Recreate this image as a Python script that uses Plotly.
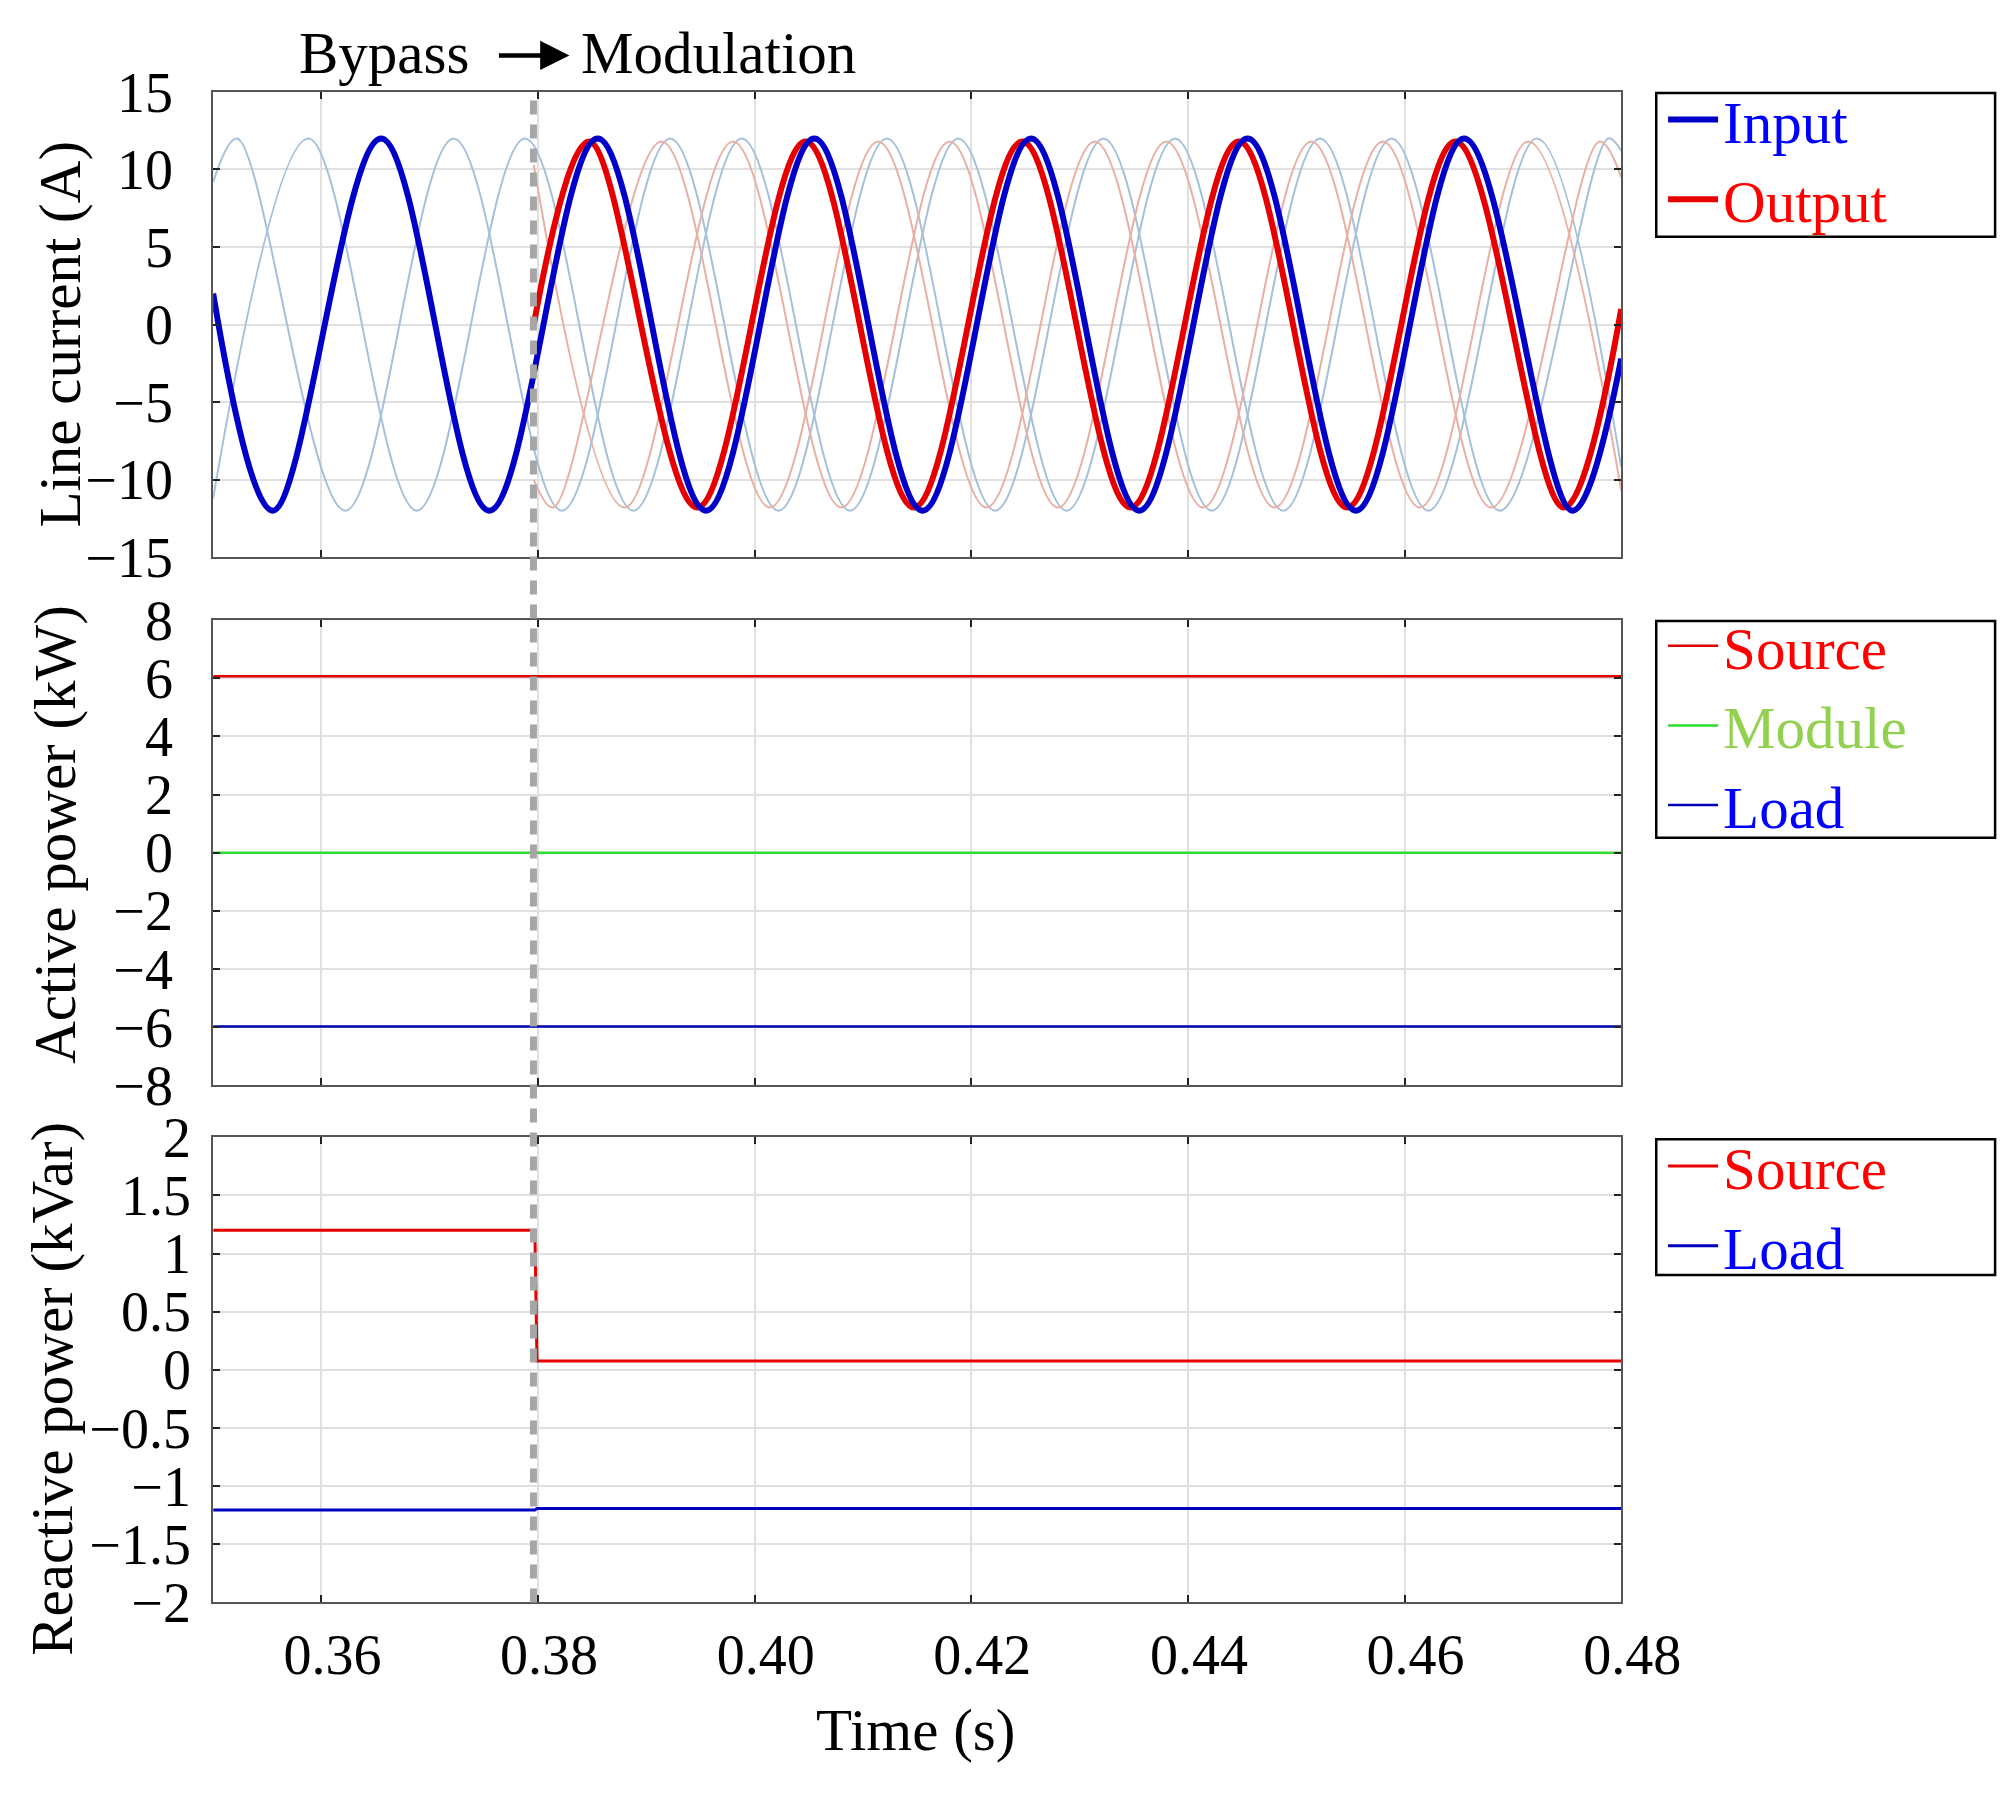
import plotly.graph_objects as go

# --- DATA ---
# Line currents: time (s) of start point, each peak/trough, and end point, with values (A)
in_a_t = [0.3500, 0.3555, 0.3655, 0.3755, 0.3855, 0.3955, 0.4055, 0.4155, 0.4255, 0.4355, 0.4455, 0.4555, 0.4655, 0.4755, 0.4800]
in_a_i = [2.0, -12, 12, -12, 12, -12, 12, -12, 12, -12, 12, -12, 12, -12, -2.2]
in_b_t = [0.3500, 0.3522, 0.3622, 0.3722, 0.3822, 0.3922, 0.4022, 0.4122, 0.4222, 0.4322, 0.4422, 0.4522, 0.4622, 0.4722, 0.4800]
in_b_i = [9.2, 12, -12, 12, -12, 12, -12, 12, -12, 12, -12, 12, -12, 12, -9.2]
in_c_t = [0.3500, 0.3588, 0.3688, 0.3788, 0.3888, 0.3988, 0.4088, 0.4188, 0.4288, 0.4388, 0.4488, 0.4588, 0.4688, 0.4788, 0.4800]
in_c_i = [-11.2, 12, -12, 12, -12, 12, -12, 12, -12, 12, -12, 12, -12, 12, 11.2]

out_a_t = [0.3796, 0.3847, 0.3947, 0.4047, 0.4147, 0.4247, 0.4347, 0.4447, 0.4547, 0.4647, 0.4747, 0.4800]
out_a_i = [0.0, 11.8, -11.8, 11.8, -11.8, 11.8, -11.8, 11.8, -11.8, 11.8, -11.8, 1.0]
out_b_t = [0.3796, 0.3814, 0.3914, 0.4014, 0.4114, 0.4214, 0.4314, 0.4414, 0.4514, 0.4614, 0.4714, 0.4800]
out_b_i = [-10.0, -11.8, 11.8, -11.8, 11.8, -11.8, 11.8, -11.8, 11.8, -11.8, 11.8, -10.7]
out_c_t = [0.3796, 0.3880, 0.3980, 0.4080, 0.4180, 0.4280, 0.4380, 0.4480, 0.4580, 0.4680, 0.4780, 0.4800]
out_c_i = [10.3, -11.8, 11.8, -11.8, 11.8, -11.8, 11.8, -11.8, 11.8, -11.8, 11.8, 9.5]

# Active power (kW)
p_t = [0.35, 0.48]
p_source = [6.07, 6.07]
p_module = [0.0, 0.0]
p_load = [-5.98, -5.98]

# Reactive power (kVar)
q_t = [0.3500, 0.3797, 0.3799, 0.4800]
q_source = [1.20, 1.20, 0.075, 0.075]
q_load = [-1.205, -1.205, -1.192, -1.192]

switch_time = 0.37957
x_ticks = [0.36, 0.38, 0.40, 0.42, 0.44, 0.46, 0.48]

# --- STYLE ---
# the photographed page shows the figure at ~0.97 scale, offset by (9, 37) px,
# so positions below are given in picture pixels and mapped back into the figure
W, H = 2050, 1794
SCALE_X, SCALE_Y = 0.970, 0.967
OFF_X, OFF_Y = 9, 37
FONT = "Liberation Serif"
BLUE = "#0000c8"
RED = "#e60000"
FAINT_BLUE = "#a6c0da"
FAINT_RED = "#e8b0a4"
GREEN = "#2ede2e"
TICK_SIZE = 56
TEXT_SIZE = 59


def px_x(x):
    return (x - OFF_X) / SCALE_X / W


def px_y(y):
    return 1 - (y - OFF_Y) / SCALE_Y / H


X_DOM = [px_x(214), px_x(1621)]
Y1_DOM = [px_y(557), px_y(91)]
Y2_DOM = [px_y(1086), px_y(620)]
Y3_DOM = [px_y(1604), px_y(1138)]


def colored(text, color):
    return f'<span style="color:{color}">{text}</span>'


fig = go.Figure()

# faint phases first
for t, i in [(in_b_t, in_b_i), (in_c_t, in_c_i)]:
    fig.add_trace(go.Scatter(x=t, y=i, mode="lines", line=dict(color=FAINT_BLUE, width=2, shape="spline"),
                             showlegend=False, xaxis="x", yaxis="y"))
for t, i in [(out_b_t, out_b_i), (out_c_t, out_c_i)]:
    fig.add_trace(go.Scatter(x=t, y=i, mode="lines", line=dict(color=FAINT_RED, width=2, shape="spline"),
                             showlegend=False, xaxis="x", yaxis="y"))

fig.add_trace(go.Scatter(x=out_a_t, y=out_a_i, mode="lines", line=dict(color=RED, width=6, shape="spline"),
                         name=colored("Output", "#ff0000"), legend="legend", legendrank=2, xaxis="x", yaxis="y"))
fig.add_trace(go.Scatter(x=in_a_t, y=in_a_i, mode="lines", line=dict(color=BLUE, width=6, shape="spline"),
                         name=colored("Input", "#0000ff"), legend="legend", legendrank=1, xaxis="x", yaxis="y"))

# active power
fig.add_trace(go.Scatter(x=p_t, y=p_source, mode="lines", line=dict(color="#e00000", width=2.5),
                         name=colored("Source", "#ff0000"), legend="legend2", xaxis="x2", yaxis="y2"))
fig.add_trace(go.Scatter(x=p_t, y=p_module, mode="lines", line=dict(color=GREEN, width=2.5),
                         name=colored("Module", "#92d050"), legend="legend2", xaxis="x2", yaxis="y2"))
fig.add_trace(go.Scatter(x=p_t, y=p_load, mode="lines", line=dict(color="#0000b4", width=2.5),
                         name=colored("Load", "#0000ff"), legend="legend2", xaxis="x2", yaxis="y2"))

# reactive power
fig.add_trace(go.Scatter(x=q_t, y=q_source, mode="lines", line=dict(color="#e60000", width=3),
                         name=colored("Source", "#ff0000"), legend="legend3", xaxis="x3", yaxis="y3"))
fig.add_trace(go.Scatter(x=q_t, y=q_load, mode="lines", line=dict(color="#0000c0", width=3),
                         name=colored("Load", "#0000ff"), legend="legend3", xaxis="x3", yaxis="y3"))

axis_common = dict(
    showline=True, linecolor="#555555", linewidth=2, mirror="ticks",
    ticks="inside", ticklen=7, tickwidth=2, tickcolor="#222222",
    showgrid=True, gridcolor="#e0e0e0", gridwidth=1.5, zeroline=False,
    tickfont=dict(family=FONT, size=TICK_SIZE, color="black"),
)

x_common = dict(axis_common, range=[0.35, 0.48], tickvals=x_ticks, domain=X_DOM)
legend_common = dict(xanchor="left", yanchor="top", bgcolor="rgba(0,0,0,0)",
                     font=dict(family=FONT, size=TEXT_SIZE), itemwidth=50, traceorder="normal")

fig.update_layout(
    width=W, height=H,
    margin=dict(l=0, r=0, t=0, b=0),
    paper_bgcolor="white", plot_bgcolor="white",
    font=dict(family=FONT, size=TEXT_SIZE, color="black"),
    xaxis=dict(x_common, anchor="y", showticklabels=False),
    xaxis2=dict(x_common, anchor="y2", matches="x", showticklabels=False),
    xaxis3=dict(x_common, anchor="y3", matches="x", showticklabels=True, tickformat=".2f",
                ticklabelstandoff=2, ticklabelshift=11),
    yaxis=dict(axis_common, domain=Y1_DOM, anchor="x", range=[-15, 15], dtick=5, ticklabelstandoff=27),
    yaxis2=dict(axis_common, domain=Y2_DOM, anchor="x2", range=[-8, 8], dtick=2, ticklabelstandoff=27),
    yaxis3=dict(axis_common, domain=Y3_DOM, anchor="x3", range=[-2, 2], dtick=0.5, ticklabelstandoff=9),
    legend=dict(legend_common, x=1705 / W, y=1 - 38 / H),
    legend2=dict(legend_common, x=1705 / W, y=1 - 583 / H),
    legend3=dict(legend_common, x=1705 / W, y=1 - 1122 / H),
)

# switching instant and legend boxes
fig.add_shape(type="line", xref="x", yref="paper", x0=switch_time, x1=switch_time,
              y0=Y3_DOM[0], y1=Y1_DOM[1], line=dict(color="#a6a6a6", width=7, dash="14px,10px"))
for top, bottom in [(92, 236), (621, 838), (1140, 1276)]:
    fig.add_shape(type="rect", xref="paper", yref="paper", x0=px_x(1656), x1=2047 / W,
                  y0=px_y(bottom), y1=px_y(top), line=dict(color="black", width=2.5))

# axis titles and top note
titles = [("Line current (A)", 60, 334), ("Active power (kW)", 56, 835), ("Reactive power (kVar)", 53, 1390)]
for text, x, y in titles:
    fig.add_annotation(x=px_x(x), y=px_y(y), xref="paper", yref="paper", text=text, textangle=-90,
                       xanchor="center", yanchor="middle", showarrow=False)
fig.add_annotation(x=px_x(916), y=px_y(1732), xref="paper", yref="paper", text="Time (s)",
                   xanchor="center", yanchor="middle", showarrow=False)

fig.add_annotation(x=px_x(472), y=1 - 16 / H, xref="paper", yref="paper", text="Bypass",
                   xanchor="right", yanchor="middle", showarrow=False)
fig.add_annotation(x=px_x(580), y=1 - 16 / H, xref="paper", yref="paper", text="Modulation",
                   xanchor="left", yanchor="middle", showarrow=False)
fig.add_annotation(x=px_x(570), y=1 - 18 / H, xref="paper", yref="paper", text="", showarrow=True,
                   ax=-72, ay=0, arrowhead=2, arrowsize=1.3, arrowwidth=4.5, arrowcolor="black")

fig.write_html("out.html")
